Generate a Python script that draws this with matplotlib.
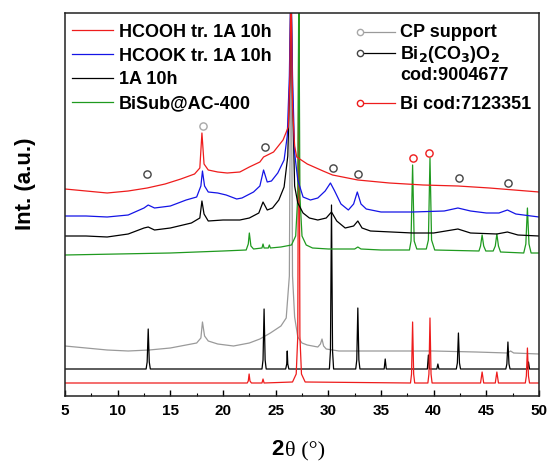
import matplotlib
matplotlib.use("Agg")
import matplotlib.pyplot as plt
from matplotlib.ticker import MultipleLocator

plt.rcParams["font.family"] = ["Liberation Sans", "DejaVu Sans"]
plt.rcParams["font.weight"] = "bold"
plt.rcParams["mathtext.default"] = "bf"

# (2theta, intensity) points, intensity in a.u. (offset stack)
bi_ref = [(5, 13), (22.3, 13), (22.4, 15), (22.48, 22), (22.56, 15), (22.7, 13),
          (23.7, 13), (23.8, 17), (23.9, 13), (26.6, 14), (26.95, 22), (27.1, 60),
          (27.2, 420), (27.3, 60), (27.45, 22), (27.8, 14), (37.8, 13), (37.9, 22),
          (38.0, 74), (38.1, 22), (38.2, 13), (39.45, 13), (39.55, 22), (39.65, 78),
          (39.75, 22), (39.85, 13), (44.45, 13), (44.6, 24), (44.75, 13), (45.85, 13),
          (46.0, 24), (46.15, 13), (48.7, 13), (48.8, 20), (48.9, 48), (49.0, 20),
          (49.1, 13), (50, 13)]

bicarb_ref = [(5, 27), (12.7, 27), (12.8, 34), (12.9, 67), (13.0, 34), (13.1, 27),
              (23.7, 27), (23.8, 36), (23.9, 87), (24.0, 36), (24.1, 27), (25.95, 27),
              (26.05, 32), (26.1, 45), (26.15, 32), (26.25, 27), (30.1, 27), (30.2, 45),
              (30.3, 191), (30.4, 45), (30.5, 27), (32.6, 27), (32.7, 36), (32.8, 88),
              (32.9, 36), (33.0, 27), (35.3, 27), (35.4, 37), (35.5, 27), (39.4, 27),
              (39.5, 41), (39.6, 27), (40.3, 27), (40.4, 32), (40.5, 27), (42.15, 27),
              (42.25, 33), (42.35, 63), (42.45, 33), (42.55, 27), (46.85, 27), (46.95, 32),
              (47.05, 54), (47.15, 32), (47.25, 27), (48.9, 27), (49.0, 34), (49.1, 27),
              (50, 27)]

cp_support = [(5, 50), (7, 48), (9, 46), (11, 45), (13, 46), (15, 48), (16.5, 51),
              (17.5, 53), (17.9, 58), (18.05, 74), (18.25, 60), (18.6, 55), (19.5, 52),
              (21, 50), (22.5, 53), (23.5, 57), (24.5, 63), (25.5, 70), (26.0, 78),
              (26.3, 120), (26.45, 420), (26.6, 120), (26.8, 79), (27.1, 59), (27.5, 53),
              (28.0, 51), (29.0, 49), (29.25, 52), (29.4, 57), (29.55, 50), (29.8, 47),
              (31.0, 45), (33, 45), (36, 45), (40, 45), (44, 44), (47.0, 43), (47.3, 45),
              (47.6, 43), (50, 42)]

bisub = [(5, 141), (10, 142), (15, 143), (20, 145), (22.2, 146), (22.4, 152), (22.5, 163),
         (22.65, 150), (22.9, 147), (23.7, 148), (23.8, 152), (23.9, 148), (24.3, 148),
         (24.4, 151), (24.5, 148), (25.5, 149), (26.5, 151), (26.9, 160), (27.1, 200),
         (27.2, 420), (27.3, 200), (27.5, 160), (27.9, 151), (28.5, 148), (30, 147),
         (32.5, 147), (32.8, 149), (33.1, 147), (35, 146), (37.7, 146), (37.85, 155),
         (38.0, 231), (38.15, 155), (38.4, 147), (39.3, 147), (39.5, 156), (39.65, 238),
         (39.8, 156), (40.1, 146), (44.3, 145), (44.45, 150), (44.6, 161), (44.75, 150),
         (44.95, 145), (45.65, 145), (45.85, 150), (46.0, 162), (46.15, 150), (46.35, 144),
         (48.55, 143), (48.75, 152), (48.9, 188), (49.05, 152), (49.25, 143), (50, 143)]

a1_10h = [(5, 160), (7, 160), (9, 159), (11, 162), (12.5, 168), (12.9, 169), (13.5, 166),
          (15, 168), (17, 173), (17.8, 178), (18.0, 195), (18.2, 182), (18.6, 175),
          (20, 176), (21.6, 176), (22.5, 178), (23.4, 183), (23.8, 194), (24.2, 186),
          (24.7, 188), (25.3, 196), (25.8, 209), (26.15, 240), (26.35, 320), (26.45, 420),
          (26.6, 300), (26.8, 210), (27.1, 193), (27.6, 183), (28.2, 178), (29.0, 176),
          (29.8, 178), (30.3, 184), (30.8, 175), (31.6, 168), (32.4, 170), (32.8, 175),
          (33.2, 168), (34, 165), (36, 164), (38, 163), (40, 163), (42.3, 167), (43.5, 163),
          (46, 162), (47.0, 164), (48, 161), (50, 160)]

hcook = [(5, 180), (7, 180), (9, 179), (11, 181), (12.5, 188), (12.9, 191), (13.5, 188),
         (15, 190), (16.5, 196), (17.5, 199), (17.9, 210), (18.05, 225), (18.25, 210),
         (18.6, 204), (19.5, 203), (20.3, 201), (21.3, 197), (21.8, 198), (22.9, 204),
         (23.5, 210), (23.85, 226), (24.2, 214), (24.6, 215), (25.2, 223), (25.8, 236),
         (26.1, 260), (26.3, 320), (26.45, 420), (26.6, 320), (26.8, 243), (27.1, 216),
         (27.6, 199), (28.3, 196), (29.0, 198), (29.7, 205), (30.2, 213), (30.6, 205),
         (31.2, 192), (31.9, 186), (32.4, 192), (32.75, 204), (33.1, 192), (33.6, 187),
         (35, 184), (38, 184), (41, 185), (42.3, 188), (43.5, 185), (45, 183), (46.2, 183),
         (47.0, 186), (47.8, 182), (50, 179)]

hcooh = [(5, 207), (7, 205), (9, 203), (11, 205), (12.8, 208), (14.5, 212), (16, 217),
         (17.3, 222), (17.8, 228), (18.0, 263), (18.2, 232), (18.6, 226), (19.5, 224),
         (20.4, 223), (21.6, 224), (22.5, 229), (23.5, 234), (23.85, 239), (24.8, 244),
         (25.7, 256), (26.2, 269), (26.35, 320), (26.45, 420), (26.6, 290), (26.8, 250),
         (27.0, 239), (28.0, 232), (29.5, 225), (30.4, 221), (32.8, 216), (35.8, 213),
         (39, 211), (42.3, 210), (45.3, 208), (50, 204)]

# phase markers (open circles)
cp_marks = [(18.1, 270)]
bicarb_marks = [(12.8, 222), (24.0, 249), (30.4, 228), (32.8, 222), (42.4, 218), (47.1, 213)]
bi_marks = [(38.0, 238), (39.6, 243)]

RED = "#ee1c1c"
BLUE = "#1414e6"
GREEN = "#1f9a1f"
GRAY = "#9a9a9a"


def xy(pts):
    return [p[0] for p in pts], [p[1] for p in pts]


fig = plt.figure(figsize=(5.49, 4.63), dpi=100)
ax = fig.add_axes([65 / 549, 67 / 463, 474 / 549, 383 / 463])

ax.plot(*xy(cp_support), color=GRAY, lw=0.9)
ax.plot(*xy(bicarb_ref), color="black", lw=0.9)
ax.plot(*xy(bi_ref), color=RED, lw=0.9)
l4, = ax.plot(*xy(bisub), color=GREEN, lw=0.9, label="BiSub@AC-400")
l3, = ax.plot(*xy(a1_10h), color="black", lw=0.9, label="1A 10h")
l2, = ax.plot(*xy(hcook), color=BLUE, lw=0.9, label="HCOOK tr. 1A 10h")
l1, = ax.plot(*xy(hcooh), color=RED, lw=0.9, label="HCOOH tr. 1A 10h")

ax.plot(*xy(cp_marks), "o", ms=5.2, mfc="white", mec="#a8a8a8", mew=1.0)
ax.plot(*xy(bicarb_marks), "o", ms=5.2, mfc="white", mec="#444444", mew=1.0)
ax.plot(*xy(bi_marks), "o", ms=5.2, mfc="white", mec=RED, mew=1.0)

ax.set_xlim(5, 50)
ax.set_ylim(0, 383)
ax.set_yticks([])
ax.xaxis.set_major_locator(MultipleLocator(5))
ax.xaxis.set_minor_locator(MultipleLocator(2.5))
ax.tick_params(axis="x", which="major", direction="in", length=4, width=1, pad=6,
               labelsize=11)
ax.tick_params(axis="x", which="minor", direction="in", length=2.2, width=0.8)
for s in ax.spines.values():
    s.set_linewidth(1.1)
    s.set_color("#222222")

ax.legend(handles=[l1, l2, l3, l4], loc="upper left", bbox_to_anchor=(0.0148, 0.972),
          frameon=False, fontsize=13, handlelength=2.27, handletextpad=0.33,
          labelspacing=0.38, borderpad=0, borderaxespad=0)

# second legend: reference patterns
tr = ax.transAxes
rows = [(0.9496, 0.9384, GRAY, "#a8a8a8", "CP support"),
        (0.8950, 0.8812, "black", "#444444", r"Bi$_2$(CO$_3$)O$_2$"),
        (0.7650, 0.7493, RED, RED, "Bi cod:7123351")]
for ym, yb, lc, mc, txt in rows:
    ax.plot([0.6224, 0.6962], [ym, ym], color=lc, lw=0.9, transform=tr, clip_on=False)
    ax.plot([0.6224], [ym], "o", ms=4.5, mfc="white", mec=mc, mew=1.0, transform=tr,
            clip_on=False)
    ax.text(0.7068, yb, txt, transform=tr, fontsize=13, fontweight="bold", va="baseline")
ax.text(0.7068, 0.8256, "cod:9004677", transform=tr, fontsize=13, fontweight="bold",
        va="baseline")

fig.text(25 / 549, (463 - 184) / 463, "Int. (a.u.)", rotation=90, ha="center",
         va="center", fontsize=16, fontweight="bold")
fig.text(284 / 549, 8 / 463, "2", ha="right", va="baseline", fontsize=16,
         fontweight="bold")
fig.text(285 / 549, 8 / 463, "\u03b8 (\u00b0)", ha="left", va="baseline", fontsize=16,
         fontweight="normal", family="Liberation Serif")

fig.savefig("out.png", dpi=100)
